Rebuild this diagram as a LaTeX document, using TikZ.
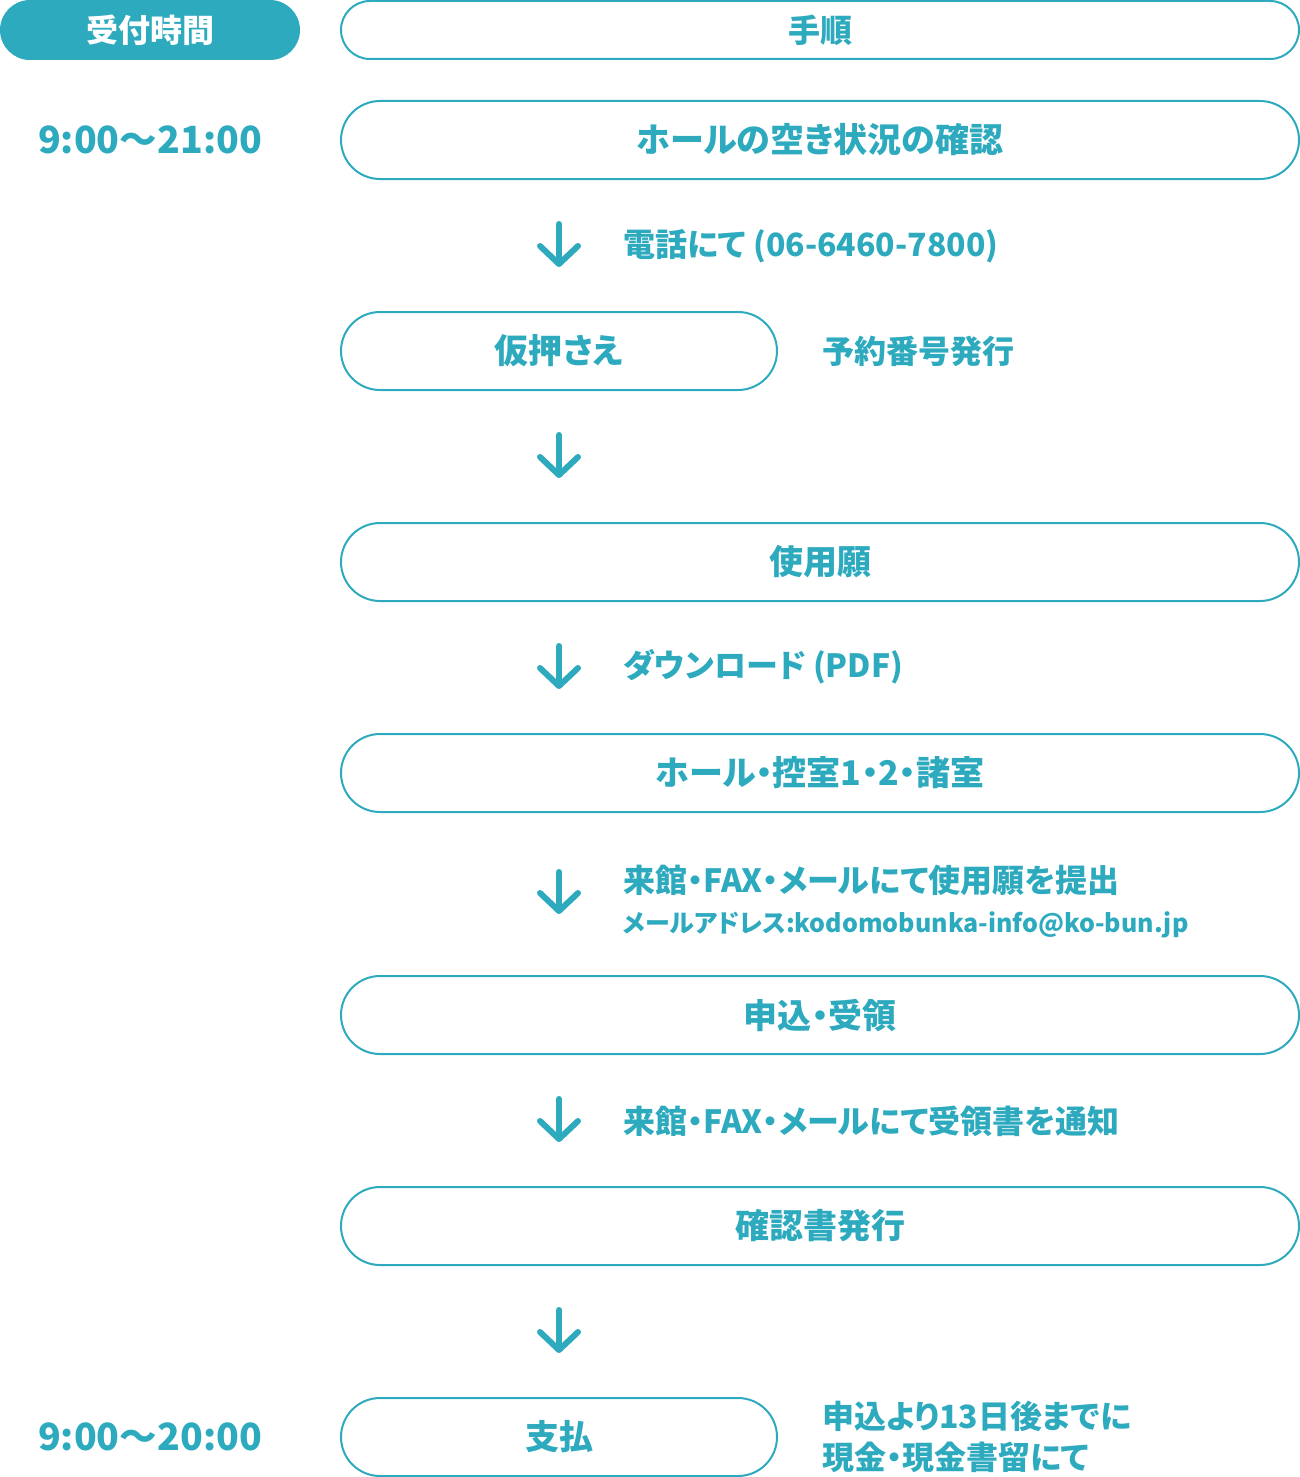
\documentclass[tikz,border=0pt]{standalone}
\usepackage{fontspec}
\setmainfont{Noto Sans CJK JP}[RawFeature={+palt}]
\usetikzlibrary{arrows.meta}
\definecolor{flowteal}{HTML}{2EAABF}
\begin{document}
\begin{tikzpicture}[x=1pt,y=-1pt,
  pill/.style={draw=flowteal,line width=2pt,rounded corners=39pt,minimum height=78pt,
    text=flowteal,font=\fontsize{34}{34}\bfseries\selectfont},
  longpill/.style={pill,minimum width=958pt},
  shortpill/.style={pill,minimum width=436pt},
  note/.style={anchor=west,inner sep=0pt,text=flowteal,font=\fontsize{32}{41}\bfseries\selectfont,align=left},
  hours/.style={text=flowteal,font=\fontsize{37.5}{37.5}\bfseries\selectfont},
  flow/.style={draw=flowteal,line width=6pt,line cap=round,shorten <=44pt,shorten >=44pt,
    -{Straight Barb[length=18pt,width=38pt,round]}}]
 \useasboundingbox (0,0) rectangle (1300,1477);
 % header
 \node [fill=flowteal,rounded corners=30pt,minimum width=300pt,minimum height=60pt,
   text=white,font=\fontsize{32}{32}\bfseries\selectfont] (head) at (150,30) {受付時間};
 \node [pill,minimum width=958pt,minimum height=58pt,rounded corners=29pt,
   font=\fontsize{32}{32}\bfseries\selectfont] (steps) at (820,30) {手順};
 % steps
 \node [longpill] (check) at (820,140) {ホールの空き状況の確認};
 \node [shortpill] (hold) at (559,351) {仮押さえ};
 \node [longpill] (form) at (820,562) {使用願};
 \node [longpill] (rooms) at (820,773) {ホール・控室1・2・諸室};
 \node [longpill] (apply) at (820,1015) {申込・受領};
 \node [longpill] (issue) at (820,1226) {確認書発行};
 \node [shortpill] (pay) at (559,1437) {支払};
 % hours
 \node [hours] (open1) at (head |- check) {9:00〜21:00};
 \node [hours] (open2) at (head |- pay) {9:00〜20:00};
 % arrows
 \coordinate (ax) at (hold.north);
 \draw [flow] (ax |- check.south) -- (hold.north);
 \draw [flow] (hold.south) -- (ax |- form.north);
 \draw [flow] (ax |- form.south) -- (ax |- rooms.north);
 \draw [flow,shorten <=59pt,shorten >=61pt] (ax |- rooms.south) -- (ax |- apply.north);
 \draw [flow] (ax |- apply.south) -- (ax |- issue.north);
 \draw [flow] (ax |- issue.south) -- (pay.north);
 % notes
 \node [note] (tel) at (623,246) {電話にて (06-6460-7800)};
 \node [note] (num) at (822,351) {予約番号発行};
 \node [note] (pdf) at (623,667) {ダウンロード (PDF)};
 \node [note] (send) at (623,880) {来館・FAX・メールにて使用願を提出};
 \node [note,font=\fontsize{25}{25}\bfseries\selectfont] (mail) at (623,925) {メールアドレス:kodomobunka-info@ko-bun.jp};
 \node [note] (notice) at (623,1121) {来館・FAX・メールにて受領書を通知};
 \node [note] (due) at (822,1437) {申込より13日後までに\\現金・現金書留にて};
\end{tikzpicture}
\end{document}
